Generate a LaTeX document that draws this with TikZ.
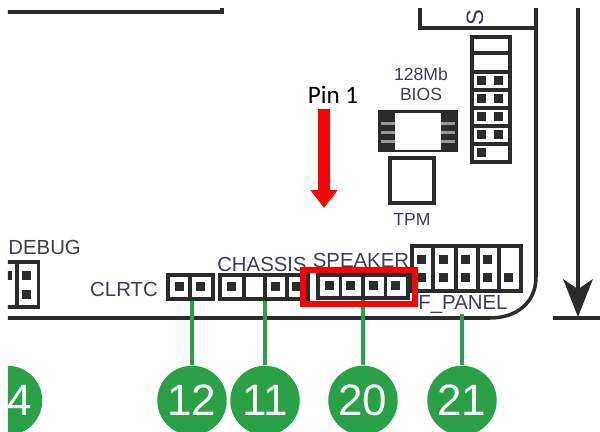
\documentclass[tikz,border=0pt]{standalone}
\usepackage{fontspec}
\setmainfont{Liberation Sans}
\newfontfamily\pinfont{Carlito}
\usepackage{xcolor}
\usetikzlibrary{arrows.meta}
\definecolor{boardline}{HTML}{2B2B2B}
\definecolor{boardtext}{HTML}{3A3F55}
\definecolor{bubblegreen}{HTML}{2AA146}
\tikzset{
	outline/.style={draw=boardline, line width=2pt},
	header/.style={outline, fill=white, inner sep=0pt},
	pinmark/.style={fill=boardline},
	lbl/.style={text=boardtext, inner sep=0pt, font=\fontsize{11.6}{12}\selectfont},
	lblsmall/.style={text=boardtext, inner sep=0pt, font=\fontsize{10}{12}\selectfont},
	bubble/.style={circle, fill=bubblegreen, text=white, minimum size=1.39cm, inner sep=0pt, font=\fontsize{25}{26}\selectfont},
	wire/.style={draw=bubblegreen, line width=2pt},
}
\begin{document}
\begin{tikzpicture}[x=0.02cm, y=-0.02cm]
	\useasboundingbox (0,0) rectangle (600,432);
	\begin{scope}
		\clip (8,9) rectangle (600,432);
		% board edges
		\draw [outline] (222,0) -- (222,12) -- (0,12);
		\draw [outline] (420,0) -- (420,28) -- (534,28);
		\draw [outline] (536,0) -- (536,277) .. controls (536,303) and (516,318) .. (490,318) -- (0,318);
		% dimension arrow
		\coordinate (dimtop) at (578,0);
		\coordinate (dimend) at (578,317);
		\draw [boardline, line width=2pt, -{Stealth[length=21.5pt, width=16.8pt, inset=5.7pt]}] (dimtop) -- (dimend);
		\draw [outline] (553,318) -- (600,318);
		% bios chip
		\fill [boardline] (378,110) rectangle (458,152);
		\foreach \y in {122,131,140} {
			\fill [gray!80] (381,\y) rectangle (395,\y+3);
			\fill [gray!80] (441,\y) rectangle (455,\y+3);
		}
		\fill [white] (395,113) rectangle (441,150);
		% tpm
		\draw [outline] (390,158) rectangle (434,203);
		% stacked header
		\draw [outline] (472,37) rectangle (510,162);
		\foreach \y in {53,72,90,108,126,144}
			\draw [outline] (472,\y) -- (510,\y);
		\foreach \x/\y in {482/81,499/81,482/99,499/99,482/117,499/117,482/135,499/135,482/153}
			\fill [pinmark] (\x-4.5,\y-4.5) rectangle (\x+4.5,\y+4.5);
		% debug header
		\node [header, minimum width=0.9cm, minimum height=0.9cm] (debug) at (16,284.5) {};
		\draw [outline] (17,262) -- (17,307);
		\foreach \x/\y in {8/276,27/276,27/295}
			\fill [pinmark] (\x-4.5,\y-4.5) rectangle (\x+4.5,\y+4.5);
		% clrtc header
		\node [header, minimum width=0.9cm, minimum height=0.48cm] (clrtc) at (190.5,287) {};
		\draw [outline] (190,275) -- (190,299);
		\foreach \x in {180,201}
			\fill [pinmark] (\x-4.5,282.5) rectangle (\x+4.5,291.5);
		% chassis header
		\node [header, minimum width=1.76cm, minimum height=0.48cm] (chassis) at (264,287) {};
		\foreach \x in {244,265,287}
			\draw [outline] (\x,275) -- (\x,299);
		\foreach \x in {232,276,297}
			\fill [pinmark] (\x-4.5,282.5) rectangle (\x+4.5,291.5);
		% speaker header
		\node [header, minimum width=1.8cm, minimum height=0.46cm] (speaker) at (363,286.5) {};
		\foreach \x in {340.5,363,385.5}
			\draw [outline] (\x,275) -- (\x,298);
		\foreach \x in {330,351,374,396}
			\fill [pinmark] (\x-4.5,281.5) rectangle (\x+4.5,290.5);
		% f_panel header
		\node [header, minimum width=2.18cm, minimum height=0.9cm] (fpanel) at (466.5,268.5) {};
		\foreach \x in {433,456,478,499}
			\draw [outline] (\x,246) -- (\x,291);
		\foreach \x/\y in {422/260,444/260,466/260,488/260,422/278,444/278,466/278,488/278,509/278}
			\fill [pinmark] (\x-4.5,\y-4.5) rectangle (\x+4.5,\y+4.5);
		% labels
		\node [lbl, rotate=90, font=\fontsize{13.5}{14}\selectfont] (sata) at (475,18) {S};
		\node [lblsmall] (bioscap) at (421,74) {128Mb};
		\node [lblsmall] (bios) at (421,94) {BIOS};
		\node [lblsmall] (tpm) at (412,219) {TPM};
		\node [lbl, anchor=west] (debuglbl) at (8,247) {DEBUG};
		\node [lbl] (clrtclbl) at (124,289) {CLRTC};
		\node [lbl] (chassislbl) at (262,264) {CHASSIS};
		\node [lbl] (speakerlbl) at (361,260) {SPEAKER};
		\node [lbl] (fpanellbl) at (463,305) {F\_PANEL};
		% bubbles
		\node [bubble] (b4) at (7.5,400.5) {};
		\node [inner sep=0pt, text=white, font=\fontsize{25}{26}\selectfont] (b4txt) at (20,400.5) {4};
		\node [bubble] (b12) at (192,400.5) {12};
		\node [bubble] (b11) at (265,400.5) {11};
		\node [bubble] (b20) at (363,400.5) {20};
		\node [bubble] (b21) at (462,400.5) {21};
		% leaders
		\draw [wire] (b12.north) -- (b12.north |- clrtc.south);
		\draw [wire] (b11.north) -- (b11.north |- chassis.south);
		\draw [wire] (b20.north) -- (speaker.south);
		\draw [wire] (b21.north) -- (b21.north |- fpanellbl.south);
		% pin 1 callout
		\node [inner sep=0pt, font=\pinfont\fontsize{14.3}{16}\selectfont] (pinlbl) at (333,95) {Pin 1};
		\coordinate (pintop) at (324,109);
		\coordinate (pinend) at (324,208);
		\draw [red, line width=6.8pt, -{Triangle[length=10.2pt, width=14.8pt]}] (pintop) -- (pinend);
		\draw [red, line width=3.4pt] (303,270) rectangle (415,304);
	\end{scope}
\end{tikzpicture}
\end{document}
